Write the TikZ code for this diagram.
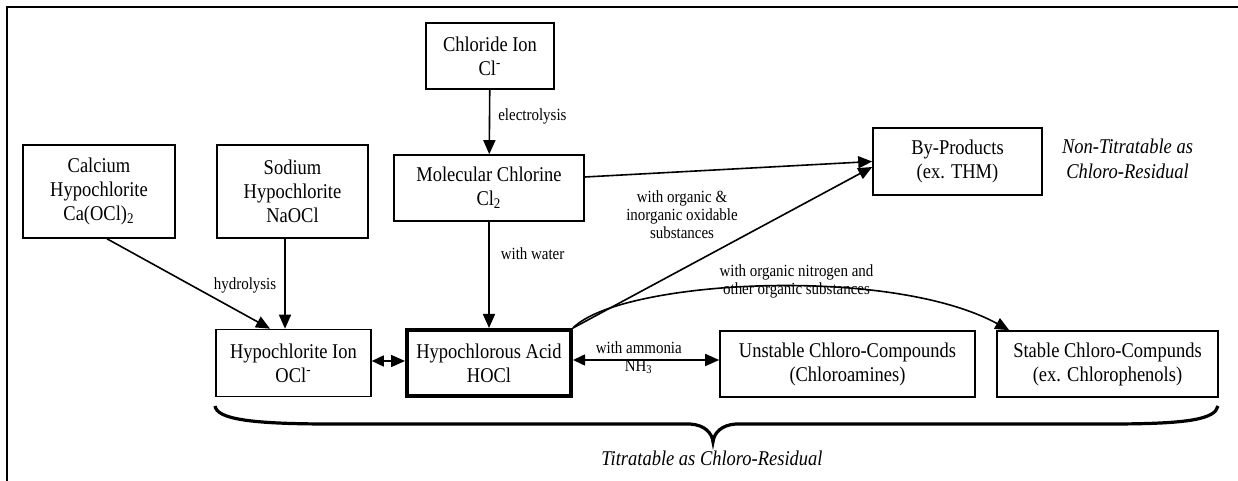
\documentclass[tikz,border=0pt]{standalone}
\usepackage{fontspec}
\setmainfont[FakeStretch=0.88]{Liberation Serif}
\usetikzlibrary{arrows.meta,positioning,calc}

\begin{document}
\begin{tikzpicture}[
    x=0.5pt, y=0.5pt,
    box/.style={draw, line width=0.8pt, inner sep=0pt, align=center,
      font=\fontsize{10.5}{12}\selectfont, minimum height=33pt},
    keybox/.style={box, line width=2pt},
    arrow/.style={-{Triangle[length=7pt,width=6pt]}, line width=0.8pt},
    dblarrow/.style={{Triangle[length=6pt,width=5.5pt]}-{Triangle[length=7pt,width=6pt]}, line width=0.8pt},
    lbl/.style={font=\fontsize{8.5}{9}\selectfont, align=center, inner sep=1pt},
    note/.style={font=\fontsize{10.5}{12.5}\selectfont\itshape, align=center}
  ]
    \useasboundingbox (0,0) rectangle (1238,481);
    % frame
    \draw[line width=0.8pt] (7,0) -- (7,474) -- (1238,474);

    % Row 1: sources
    \node[box, minimum width=64pt] (chl) at (490,425) {Chloride Ion\\Cl\textsuperscript{-}};
    \node[box, minimum width=76pt, minimum height=46.5pt] (cal) at (99,289.5) {Calcium\\Hypochlorite\\Ca(OCl)\textsubscript{2}};
    \node[box, minimum width=75.5pt, minimum height=46.5pt] (sod) at (292.5,289.5) {Sodium\\Hypochlorite\\NaOCl};
    \node[box, minimum width=95pt] (mol) at (489,293) {Molecular Chlorine\\Cl\textsubscript{2}};
    \node[box, minimum width=84.5pt, minimum height=33.5pt] (by) at (957.5,319.5) {By-Products\\(ex. THM)};

    % Row 2: products
    \node[box, minimum width=77.5pt, minimum height=33.5pt] (hion) at (293.5,118) {Hypochlorite Ion\\OCl\textsuperscript{-}};
    \node[keybox, minimum width=82pt, minimum height=33pt] (hocl) at (489,118) {Hypochlorous Acid\\HOCl};
    \node[box, minimum width=127.5pt] (unst) at (847.5,117) {Unstable Chloro-Compounds\\(Chloroamines)};
    \node[box, minimum width=110.5pt] (stab) at (1107.5,117) {Stable Chloro-Compunds\\(ex. Chlorophenols)};

    % Arrows
    \draw[arrow] (chl) -- node[lbl, right=3pt, pos=0.42] {electrolysis} (mol);
    \draw[arrow] (mol) -- node[lbl, right=4.5pt, pos=0.3] {with water} (hocl);
    \draw[arrow] ([xshift=4pt]cal.south) -- ([xshift=-11.75pt]hion.north);
    \draw[arrow] ([xshift=-3.75pt]sod.south) -- node[lbl, left=3pt, pos=0.52] {hydrolysis} ([xshift=-4.25pt]hion.north);
    \draw[dblarrow] ([yshift=1pt]hion.east) -- ([yshift=1pt]hocl.west);
    \coordinate (amm) at ([yshift=1.5pt]hocl.east);
    \draw[dblarrow] (amm) -- node[lbl, pos=0.45, yshift=1.25pt] {with ammonia\\NH\textsubscript{3}} (amm -| unst.west);
    \draw[arrow] ([yshift=5.5pt]mol.east) -- (by.west);
    \draw[arrow] (hocl.north east) -- ([yshift=-2.75pt]by.west);
    \draw[arrow] (hocl.north east) .. controls (620,201) and (890,216) .. ([xshift=6.5pt]stab.north west);

    % Labels
    \node[lbl] (oxlbl) at (682,266) {with organic \&\\inorganic oxidable\\substances};
    \node[lbl] (orglbl) at (796.5,200) {with organic nitrogen and\\other organic substances};
    \node[note] (nontit) at (1127.5,322) {Non-Titratable as\\Chloro-Residual};

    % Brace
    \draw[line width=1.6pt] (215,75) .. controls (217,62) and (250,57) .. (330,57) -- (690,57)
      .. controls (705,56) and (712,48) .. (713,39) .. controls (714,48) and (721,56) .. (736,57)
      -- (1110,57) .. controls (1190,57) and (1215,62) .. (1218,75);
    \node[note] (tit) at (712,23) {Titratable as Chloro-Residual};
\end{tikzpicture}
\end{document}
